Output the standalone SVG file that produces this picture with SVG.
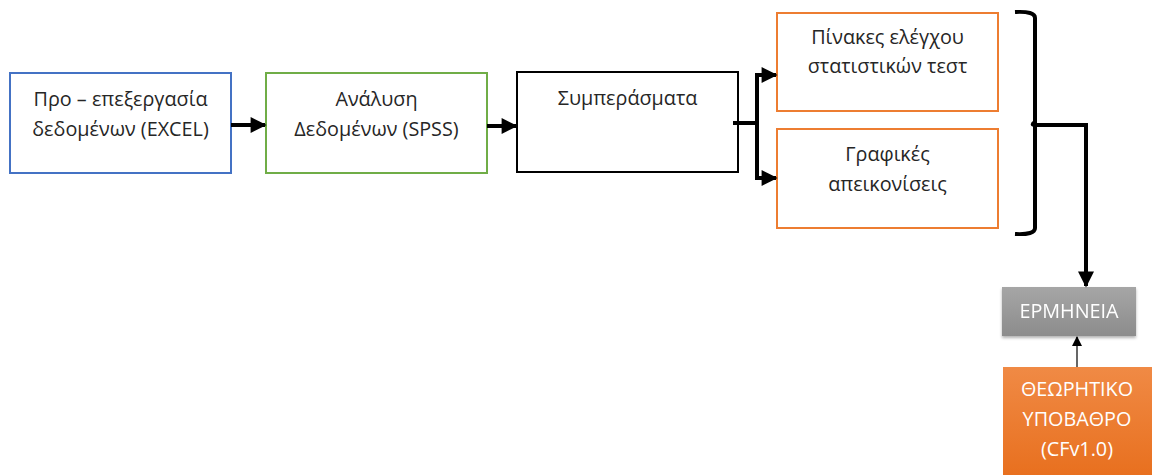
<svg xmlns="http://www.w3.org/2000/svg" width="1152" height="475" viewBox="0 0 1152 475">
  <defs>
    <style>
      .box { fill: #ffffff; stroke-width: 2; }
      .lbl { font-family: "Open Sans", "Liberation Sans", sans-serif; font-size: 19.8px; fill: #262626; text-anchor: middle; }
      .wlbl { font-family: "Open Sans", "Liberation Sans", sans-serif; font-size: 19.8px; fill: #ffffff; text-anchor: middle; }
      .thick { fill: none; stroke: #000000; stroke-width: 4; }
    </style>
    <marker id="head" viewBox="0 0 10 10" refX="9" refY="5" markerWidth="4.5" markerHeight="4" markerUnits="strokeWidth" orient="auto">
      <path d="M0,0 L10,5 L0,10 z" fill="#000000"/>
    </marker>
    <marker id="headThin" viewBox="0 0 10 10" refX="9" refY="5" markerWidth="10" markerHeight="10" markerUnits="userSpaceOnUse" orient="auto">
      <path d="M0,0 L10,5 L0,10 z" fill="#000000"/>
    </marker>
    <linearGradient id="grayFill" x1="0" y1="0" x2="0" y2="1">
      <stop offset="0" stop-color="#a6a6a6"/>
      <stop offset="1" stop-color="#8c8c8c"/>
    </linearGradient>
    <linearGradient id="orangeFill" x1="0" y1="0" x2="0" y2="1">
      <stop offset="0" stop-color="#f08a45"/>
      <stop offset="1" stop-color="#e8701f"/>
    </linearGradient>
    <filter id="shadow" x="-10%" y="-10%" width="120%" height="130%">
      <feDropShadow dx="0" dy="2" stdDeviation="1.5" flood-color="#000000" flood-opacity="0.3"/>
    </filter>
  </defs>

  <g id="preprocessing">
    <rect class="box" x="10" y="73" width="221" height="100" stroke="#4472c4"/>
    <text class="lbl" x="120.5" y="106">Προ – επεξεργασία</text>
    <text class="lbl" x="120.5" y="136">δεδομένων (EXCEL)</text>
  </g>

  <g id="analysis">
    <rect class="box" x="266" y="73" width="221" height="100" stroke="#70ad47"/>
    <text class="lbl" x="376.5" y="106">Ανάλυση</text>
    <text class="lbl" x="376.5" y="136">Δεδομένων (SPSS)</text>
  </g>

  <g id="conclusions">
    <rect class="box" x="517" y="72" width="221" height="100" stroke="#000000"/>
    <text class="lbl" x="627.5" y="105">Συμπεράσματα</text>
  </g>

  <g id="test-tables">
    <rect class="box" x="777" y="13" width="221" height="98" stroke="#ed7d31"/>
    <text class="lbl" x="887.5" y="44">Πίνακες ελέγχου</text>
    <text class="lbl" x="887.5" y="73">στατιστικών τεστ</text>
  </g>

  <g id="charts">
    <rect class="box" x="777" y="129" width="221" height="99" stroke="#ed7d31"/>
    <text class="lbl" x="887.5" y="161">Γραφικές</text>
    <text class="lbl" x="887.5" y="191">απεικονίσεις</text>
  </g>

  <g id="interpretation" filter="url(#shadow)">
    <rect x="1002" y="287" width="134" height="49" fill="url(#grayFill)"/>
    <text class="wlbl" x="1069" y="318">ΕΡΜΗΝΕΙΑ</text>
  </g>

  <g id="theory">
    <rect x="1003" y="367" width="149" height="108" fill="url(#orangeFill)"/>
    <text class="wlbl" x="1077" y="396">ΘΕΩΡΗΤΙΚΟ</text>
    <text class="wlbl" x="1077" y="426">ΥΠΟΒΑΘΡΟ</text>
    <text class="wlbl" x="1077" y="456">(CFv1.0)</text>
  </g>

  <g id="connectors">
    <line class="thick" x1="231" y1="125" x2="265" y2="125" marker-end="url(#head)"/>
    <line class="thick" x1="487" y1="126" x2="516" y2="126" marker-end="url(#head)"/>
    <!-- fork from conclusions to both result boxes -->
    <path class="thick" d="M733,123 H757"/>
    <path class="thick" d="M757,73 V180"/>
    <line class="thick" x1="755" y1="75" x2="776" y2="75" marker-end="url(#head)"/>
    <line class="thick" x1="755" y1="178" x2="776" y2="178" marker-end="url(#head)"/>
    <!-- bracket grouping the two result boxes -->
    <path class="thick" d="M1015,12 Q1035,11 1035,18 V228 Q1035,235 1015,234" stroke-linejoin="round"/>
    <path class="thick" d="M1035,122 Q1030,125 1036,125 H1086 V286" marker-end="url(#head)"/>
    <!-- theory feeds interpretation -->
    <line x1="1077" y1="367" x2="1077" y2="337" stroke="#000000" stroke-width="1.2" marker-end="url(#headThin)"/>
  </g>
</svg>
